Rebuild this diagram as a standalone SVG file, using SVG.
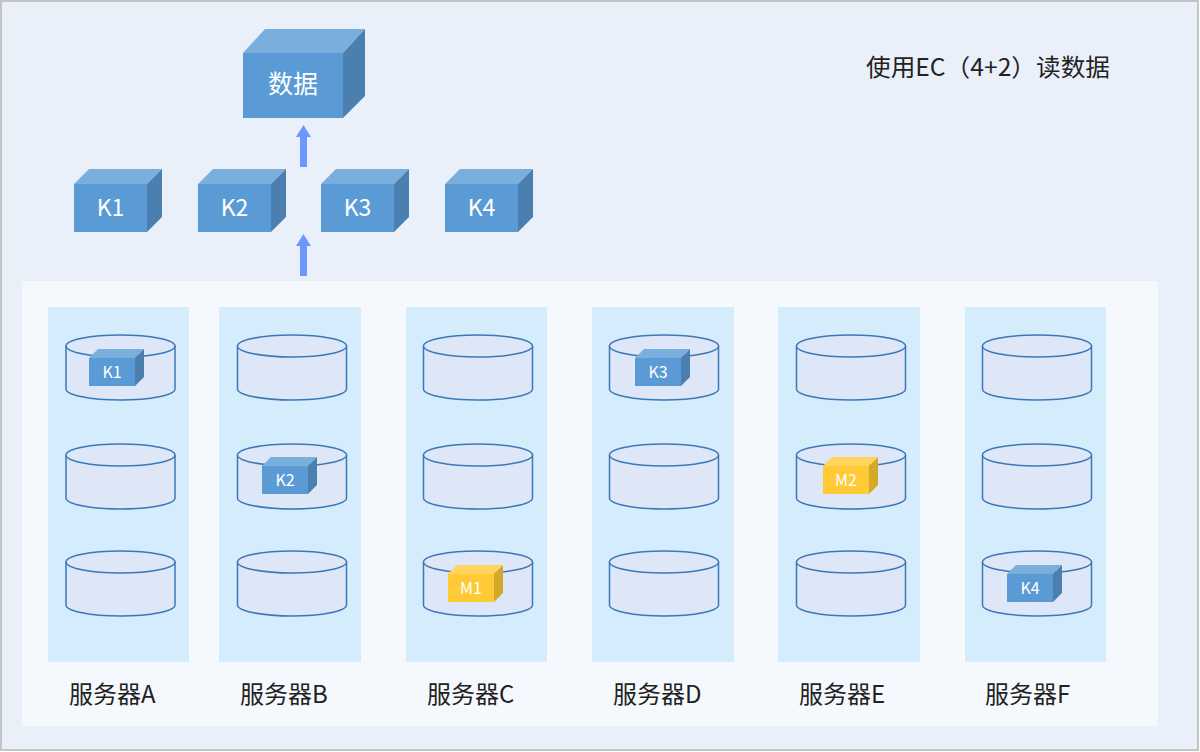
<svg xmlns="http://www.w3.org/2000/svg" xmlns:xlink="http://www.w3.org/1999/xlink" width="1200" height="752" viewBox="0 0 1200 752">
<style>
.bg{fill:#EAF0FA;stroke:#C4C4C4;stroke-width:2}
.panel{fill:#F5F9FE}
.col{fill:#D5ECFC}
.cyl{fill:#DDE7F8;stroke:#3B78B8;stroke-width:1.5}
.bf{fill:#5B9BD5}.bt{fill:#7AAEDC}.br{fill:#4A7FAF}
.yf{fill:#FFCA36}.yt{fill:#FFD55C}.yr{fill:#D4A82B}
.ct{font-family:"Noto Sans CJK SC","Noto Sans",sans-serif;fill:#fff;text-anchor:middle}
.lbl{font-family:"Noto Sans CJK SC","Noto Sans",sans-serif;fill:#222;font-size:24px}
.arrow{fill:#6D96FF}
</style>
<defs>
<g id="cyl">
<path class="cyl" d="M-54.5 0 V43 A54.5 11 0 0 0 54.5 43 V0"/>
<ellipse class="cyl" cx="0" cy="0" rx="54.5" ry="11"/>
</g>
<g id="sb">
<polygon class="bt" points="0,0 9,-9 55,-9 46,0"/>
<polygon class="br" points="46,0 55,-9 55,19 46,28"/>
<rect class="bf" x="0" y="0" width="46" height="28"/>
</g>
<g id="sy">
<polygon class="yt" points="0,0 9,-9 55,-9 46,0"/>
<polygon class="yr" points="46,0 55,-9 55,19 46,28"/>
<rect class="yf" x="0" y="0" width="46" height="28"/>
</g>
<g id="kb">
<polygon class="bt" points="0,0 15,-15 88,-15 73,0"/>
<polygon class="br" points="73,0 88,-15 88,33 73,48"/>
<rect class="bf" x="0" y="0" width="73" height="48"/>
</g>
</defs>
<rect class="bg" x="1" y="1" width="1197" height="749"/>
<rect class="panel" x="22" y="281" width="1136" height="445"/>
<text class="lbl" x="866" y="76" font-size="26" textLength="244" lengthAdjust="spacingAndGlyphs">使用EC（4+2）读数据</text>

<g id="data">
<polygon class="bt" points="243,53 265,29 365,29 343,53"/>
<polygon class="br" points="343,53 365,29 365,96 343,118"/>
<rect class="bf" x="243" y="53" width="100" height="65"/>
<text class="ct" x="293" y="93" font-size="25">数据</text>
</g>
<g id="K1"><use xlink:href="#kb" x="74" y="184"/><text class="ct" x="110.5" y="216" font-size="23">K1</text></g>
<g id="K2"><use xlink:href="#kb" x="198" y="184"/><text class="ct" x="234.5" y="216" font-size="23">K2</text></g>
<g id="K3"><use xlink:href="#kb" x="321" y="184"/><text class="ct" x="357.5" y="216" font-size="23">K3</text></g>
<g id="K4"><use xlink:href="#kb" x="445" y="184"/><text class="ct" x="481.5" y="216" font-size="23">K4</text></g>

<g id="connectors">
<polygon class="arrow" points="300,167 300,137 296,137 303.5,125 311,137 307,137 307,167"/>
<polygon class="arrow" points="300,276 300,246 296,246 303.5,234 311,246 307,246 307,276"/>
</g>

<g id="serverA">
<rect class="col" x="48" y="307" width="141" height="355"/>
<use xlink:href="#cyl" x="120.5" y="346"/>
<use xlink:href="#cyl" x="120.5" y="455"/>
<use xlink:href="#cyl" x="120.5" y="562"/>
<use xlink:href="#sb" x="89" y="358"/><text class="ct" x="112" y="378" font-size="16">K1</text>
<text class="lbl" x="69" y="703">服务器A</text>
</g>
<g id="serverB">
<rect class="col" x="219" y="307" width="142" height="355"/>
<use xlink:href="#cyl" x="292" y="346"/>
<use xlink:href="#cyl" x="292" y="455"/>
<use xlink:href="#cyl" x="292" y="562"/>
<use xlink:href="#sb" x="262" y="466"/><text class="ct" x="285" y="486" font-size="16">K2</text>
<text class="lbl" x="240" y="703">服务器B</text>
</g>
<g id="serverC">
<rect class="col" x="406" y="307" width="141" height="355"/>
<use xlink:href="#cyl" x="478" y="346"/>
<use xlink:href="#cyl" x="478" y="455"/>
<use xlink:href="#cyl" x="478" y="562"/>
<use xlink:href="#sy" x="448" y="574"/><text class="ct" x="471" y="594" font-size="16">M1</text>
<text class="lbl" x="427" y="703">服务器C</text>
</g>
<g id="serverD">
<rect class="col" x="592" y="307" width="142" height="355"/>
<use xlink:href="#cyl" x="664" y="346"/>
<use xlink:href="#cyl" x="664" y="455"/>
<use xlink:href="#cyl" x="664" y="562"/>
<use xlink:href="#sb" x="635" y="358"/><text class="ct" x="658" y="378" font-size="16">K3</text>
<text class="lbl" x="613" y="703">服务器D</text>
</g>
<g id="serverE">
<rect class="col" x="778" y="307" width="142" height="355"/>
<use xlink:href="#cyl" x="851" y="346"/>
<use xlink:href="#cyl" x="851" y="455"/>
<use xlink:href="#cyl" x="851" y="562"/>
<use xlink:href="#sy" x="823" y="466"/><text class="ct" x="846" y="486" font-size="16">M2</text>
<text class="lbl" x="799" y="703">服务器E</text>
</g>
<g id="serverF">
<rect class="col" x="965" y="307" width="141" height="355"/>
<use xlink:href="#cyl" x="1037" y="346"/>
<use xlink:href="#cyl" x="1037" y="455"/>
<use xlink:href="#cyl" x="1037" y="562"/>
<use xlink:href="#sb" x="1007" y="574"/><text class="ct" x="1030" y="594" font-size="16">K4</text>
<text class="lbl" x="985" y="703">服务器F</text>
</g>
</svg>
